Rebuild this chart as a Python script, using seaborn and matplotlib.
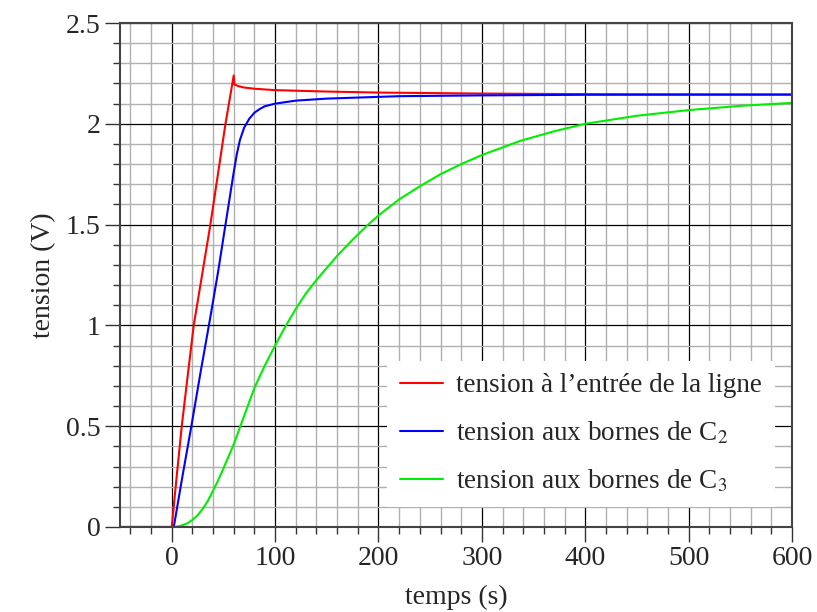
import matplotlib
matplotlib.use('Agg')
import matplotlib.pyplot as plt
import seaborn as sns
from matplotlib.ticker import MultipleLocator

# tension à l'entrée de la ligne
t_entree = [-50, 0, 5, 9.7, 15, 21.3, 30, 37.4, 45, 52, 60, 60.6, 65, 70, 80, 100,
            150, 200, 300, 400, 500, 600]
v_entree = [0, 0, 0.26, 0.5, 0.73, 1.0, 1.27, 1.5, 1.76, 2.0, 2.24, 2.195, 2.186, 2.18,
            2.174, 2.167, 2.16, 2.155, 2.15, 2.147, 2.146, 2.145]

# tension aux bornes de C2
t_c2 = [-50, 2, 10, 19, 28, 37, 45, 52, 56, 60, 63, 66, 70, 75, 80, 85, 90, 100, 120,
        150, 220, 300, 400, 600]
v_c2 = [0, 0, 0.24, 0.5, 0.77, 1.03, 1.27, 1.5, 1.63, 1.76, 1.85, 1.92, 1.98, 2.025,
        2.055, 2.073, 2.087, 2.10, 2.115, 2.125, 2.137, 2.141, 2.144, 2.145]

# tension aux bornes de C3
t_c3 = [-50, 0, 5, 10, 15, 20, 25, 30, 35, 40, 45, 50, 55, 60, 65, 70, 80, 90, 100,
        110, 121, 130, 140, 150, 160, 175, 189, 200, 220, 240, 260, 280, 300, 337,
        370, 400, 450, 500, 550, 600]
v_c3 = [0, 0, 0.002, 0.008, 0.018, 0.035, 0.058, 0.09, 0.13, 0.18, 0.232, 0.29, 0.35,
        0.41, 0.48, 0.55, 0.69, 0.80, 0.9, 0.995, 1.09, 1.16, 1.225, 1.285, 1.345,
        1.425, 1.495, 1.545, 1.625, 1.69, 1.75, 1.80, 1.845, 1.915, 1.963, 2.0, 2.04,
        2.068, 2.089, 2.104]

labels = ['tension à l’entrée de la ligne',
          'tension aux bornes de C$_2$',
          'tension aux bornes de C$_3$']

sns.set_theme(style='white')
plt.rcParams['font.family'] = ['Liberation Serif', 'DejaVu Serif']
plt.rcParams['mathtext.fontset'] = 'stix'

fig = plt.figure(figsize=(8.17, 6.12), dpi=100)
ax = fig.add_axes([0.1469, 0.1389, 0.8225, 0.8235])

sns.lineplot(x=t_entree, y=v_entree, color='#ff0000', lw=1.5, label=labels[0], ax=ax, sort=False)
sns.lineplot(x=t_c2, y=v_c2, color='#0000ff', lw=1.5, label=labels[1], ax=ax, sort=False)
sns.lineplot(x=t_c3, y=v_c3, color='#00ee00', lw=1.5, label=labels[2], ax=ax, sort=False)

ax.set_xlim(-50, 600)
ax.set_ylim(0, 2.5)
ax.xaxis.set_major_locator(MultipleLocator(100))
ax.xaxis.set_minor_locator(MultipleLocator(20))
ax.yaxis.set_major_locator(MultipleLocator(0.5))
ax.yaxis.set_minor_locator(MultipleLocator(0.1))
ax.set_yticks([0, 0.5, 1, 1.5, 2, 2.5], ['0', '0.5', '1', '1.5', '2', '2.5'])

ax.set_axisbelow(True)
ax.grid(which='minor', color='#b0b0b0', lw=1.0)
ax.grid(which='major', color='black', lw=0.9)

ax.tick_params(which='both', direction='out', width=1, color='#333333',
               labelsize=20, bottom=True, left=True)
ax.tick_params(which='major', length=11, pad=3)
ax.tick_params(which='minor', length=5)
for s in ax.spines.values():
    s.set_color('#444444')
    s.set_linewidth(1.5)

ax.set_xlabel('temps (s)', fontsize=20, labelpad=10)
ax.set_ylabel('tension (V)', fontsize=20, labelpad=7)

ax.legend(loc='lower right', bbox_to_anchor=(0.974, 0.04), frameon=True, fancybox=False,
          edgecolor='none', facecolor='white', framealpha=1, fontsize=19.5,
          handlelength=1.6, handletextpad=0.5, labelspacing=0.8, borderpad=0.45,
          borderaxespad=0)

fig.savefig('out.png', dpi=100)
